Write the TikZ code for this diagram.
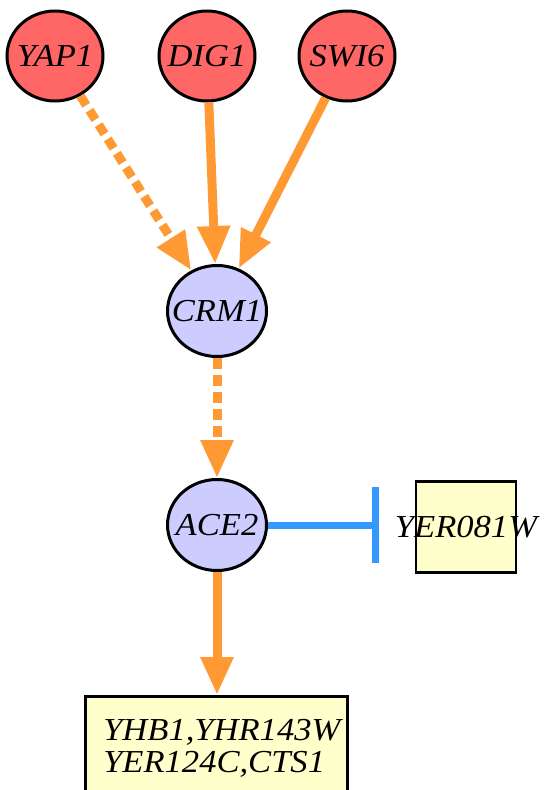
\documentclass[tikz,border=0pt]{standalone}
\usepackage{fontspec}
\setmainfont{Liberation Serif}[FakeStretch=1.08]
\usetikzlibrary{shapes.geometric,arrows.meta}
\definecolor{regred}{HTML}{FF6666}
\definecolor{tflav}{HTML}{CCCCFF}
\definecolor{geneyel}{HTML}{FFFFCC}
\definecolor{actorange}{HTML}{FF9933}
\definecolor{inhblue}{HTML}{3399FF}

\begin{document}
\begin{tikzpicture}[x=1pt, y=-1pt,
    every node/.style={font=\fontsize{32}{32}\selectfont\itshape},
    regulator/.style={draw, ellipse, line width=3pt, fill=regred, minimum width=96pt, minimum height=90pt, inner sep=-14pt},
    factor/.style={draw, ellipse, line width=3pt, fill=tflav, minimum width=99pt, minimum height=91pt, inner sep=-14pt},
    genebox/.style={draw, rectangle, line width=2.5pt, fill=geneyel},
    activates/.style={line width=9pt, draw=actorange, -{Triangle[length=38pt, width=31pt]}, actorange},
    indirect/.style={activates, dash pattern=on 11pt off 6pt},
    inhibits/.style={line width=7pt, draw=inhblue, -{Bar[width=76pt]}}
  ]
        \clip (0,0) rectangle (546,790);
        \useasboundingbox (0,0) rectangle (546,790);

        \node[regulator] (yap1) at (55,56) {YAP1};
        \node[regulator] (dig1) at (207,56) {DIG1};
        \node[regulator] (swi6) at (347,56) {SWI6};
        \node[factor] (crm1) at (217,311) {CRM1};
        \node[factor] (ace2) at (217,525) {ACE2};
        \node[genebox, minimum width=100pt, minimum height=91pt, label={center:YER081W}] (yer081w) at (466,527) {};
        \node[genebox, anchor=north west, text width=226pt, inner sep=18pt, minimum height=104pt, align=left] (targets) at (84,695) {YHB1,YHR143W\\YER124C,CTS1};
        \coordinate (tee) at (379,525);

        \draw[indirect] (yap1) -- (crm1);
        \draw[activates] (dig1) -- (crm1);
        \draw[activates] (swi6) -- (crm1);
        \draw[indirect] (crm1) -- (ace2);
        \draw[inhibits] (ace2) -- (tee);
        \draw[activates] (ace2) -- (ace2 |- targets.north);
    \end{tikzpicture}
\end{document}
